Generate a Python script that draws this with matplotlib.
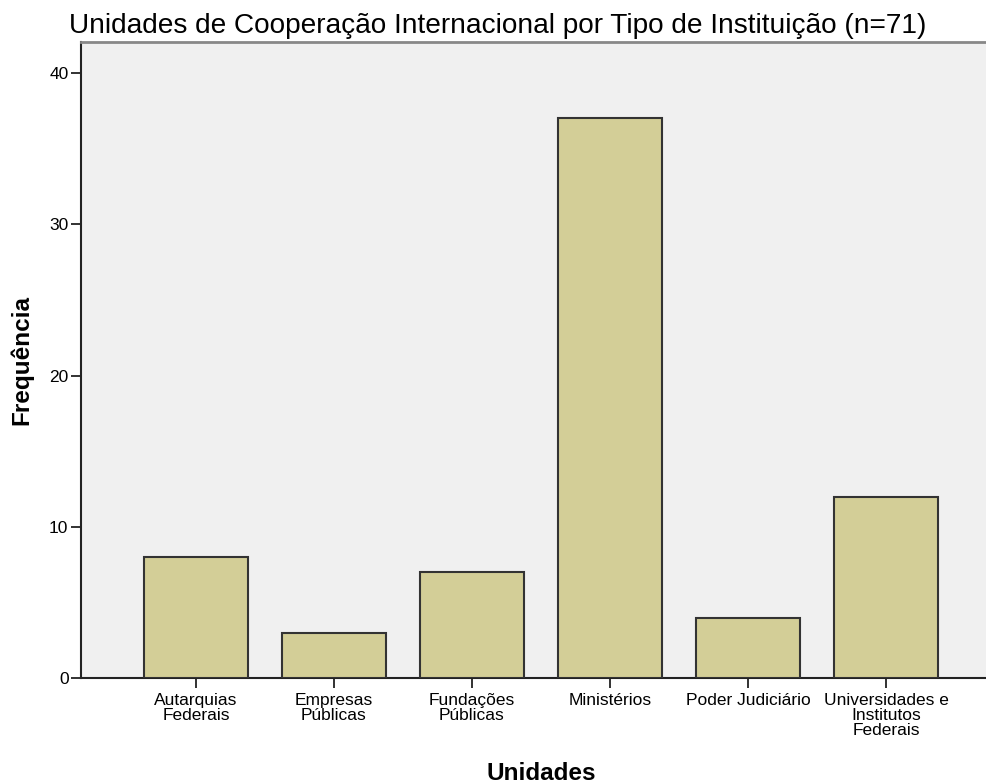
import matplotlib
matplotlib.use('Agg')
import matplotlib.pyplot as plt

# dados
categorias = ['Autarquias\nFederais', 'Empresas\nPúblicas', 'Fundações\nPúblicas',
              'Ministérios', 'Poder Judiciário', 'Universidades e\nInstitutos\nFederais']
frequencias = [8, 3, 7, 37, 4, 12]
y_ticks = [0, 10, 20, 30, 40]

plt.rcParams['font.family'] = ['Liberation Sans', 'DejaVu Sans']

fig = plt.figure(figsize=(9.86, 7.84), dpi=100)
ax = fig.add_axes([81/986, 1 - 678/784, 1 - 81/986 + 0.01, (678 - 42)/784])
ax.set_facecolor('#F0F0F0')

x = list(range(len(categorias)))
ax.bar(x, frequencias, width=0.75, color='#D3CE97', edgecolor='#333333', linewidth=1.5, zorder=3)

ax.set_xlim(-0.833, 5.725 + 0.0715)
ax.set_ylim(0, 42.05)
ax.set_yticks(y_ticks)
ax.set_xticks(x)
ax.set_xticklabels(categorias, fontsize=12.5, linespacing=1.0)
ax.tick_params(axis='y', labelsize=12.5, length=7.5, width=1.3, pad=1.5, color='#222222')
ax.tick_params(axis='x', length=7.5, width=1.3, pad=3, color='#222222')

for s in ['left', 'bottom']:
    ax.spines[s].set_color('#222222')
    ax.spines[s].set_linewidth(1.5)
ax.spines['top'].set_color('#888888')
ax.spines['top'].set_linewidth(2)
ax.spines['right'].set_visible(False)

fig.text(498/986, 1 - 33/784, 'Unidades de Cooperação Internacional por Tipo de Instituição (n=71)',
         ha='center', va='baseline', fontsize=20.2)
fig.text(541/986, 1 - 773/784, 'Unidades', ha='center', va='center', fontsize=17.5, fontweight='bold')
fig.text(22/986, 1 - 360/784, 'Frequência', ha='center', va='center', rotation=90,
         fontsize=17.5, fontweight='bold')

fig.savefig('out.png', dpi=100, facecolor='white')
